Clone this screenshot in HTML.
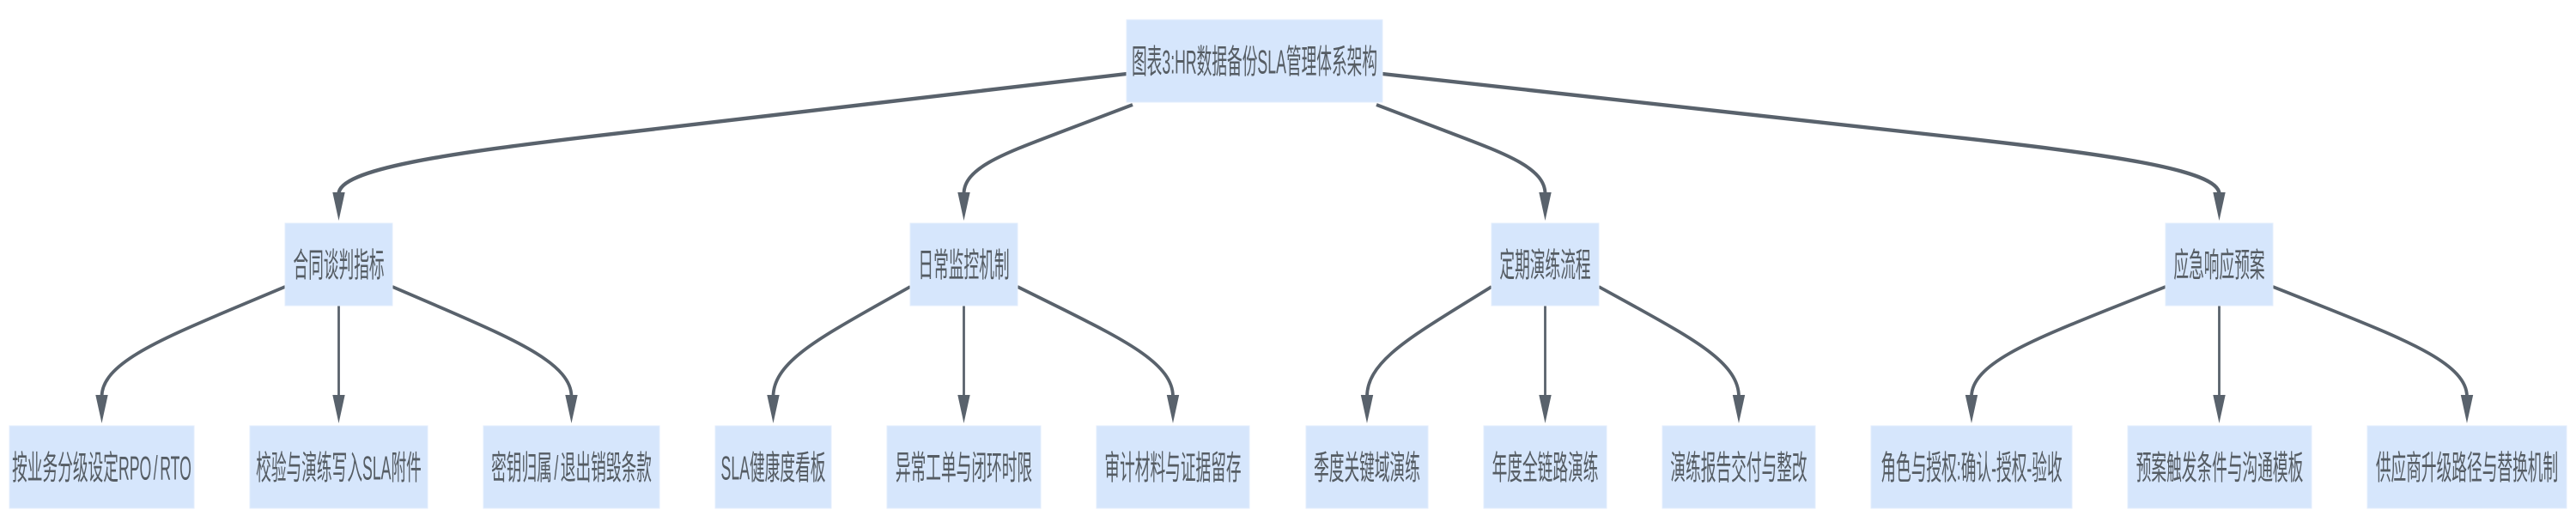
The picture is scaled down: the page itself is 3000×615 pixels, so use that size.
<!DOCTYPE html>
<html>
<head>
<meta charset="utf-8">
<style>
  html, body { margin: 0; padding: 0; background: #ffffff; }
  body { width: 3000px; height: 615px; overflow: hidden; }
  svg { display: block; }
</style>
</head>
<body>
<svg width="3000" height="615" viewBox="0 0 3000 615" xmlns="http://www.w3.org/2000/svg">
  <rect x="0" y="0" width="3000" height="615" fill="#ffffff"/>

  <!-- edges -->
  <g fill="none" stroke="#59626c" stroke-linecap="butt">
    <!-- root to level 1 -->
    <g stroke-width="4.4">
      <path d="M 1312 86 L 700 157.6 C 520 178.7, 394.5 197, 394.5 226"/>
      <path d="M 1610 86 L 2260 158 C 2450 179, 2584.5 197, 2584.5 226"/>
    </g>
    <g stroke-width="4">
      <path d="M 1319 122 L 1240 152 C 1170 178.6, 1122.5 195, 1122.5 226"/>
      <path d="M 1603 122 L 1682 152 C 1752 178.6, 1799.5 195, 1799.5 226"/>
    </g>

    <g stroke-width="3.8">
      <!-- L1a -->
      <path d="M 332 334 L 270.1 360 C 180.4 398, 118.5 425, 118.5 462"/>
      <path d="M 457 334 L 517.5 360 C 605 398, 665.5 425, 665.5 462"/>
      <!-- L1b -->
      <path d="M 1060 334 L 1013.7 360 C 946.8 398, 900.5 425, 900.5 462"/>
      <path d="M 1185 334 L 1237.5 360 C 1313.5 398, 1366 425, 1366 462"/>
      <!-- L1c -->
      <path d="M 1737 334 L 1695 360 C 1634 398, 1592 425, 1592 462"/>
      <path d="M 1862 334 L 1909.3 360 C 1977.7 398, 2025 425, 2025 462"/>
      <!-- L1d -->
      <path d="M 2522 334 L 2456.5 360 C 2361.5 398, 2296 425, 2296 462"/>
      <path d="M 2647 334 L 2712.5 360 C 2807.5 398, 2873 425, 2873 462"/>
    </g>
    <g stroke-width="2.8">
      <path d="M 394.5 356 L 394.5 462"/>
      <path d="M 1122.5 356 L 1122.5 462"/>
      <path d="M 1799.5 356 L 1799.5 462"/>
      <path d="M 2584.5 356 L 2584.5 462"/>
    </g>
  </g>

  <!-- arrowheads -->
  <g fill="#59626c">
    <polygon points="387.3,224 401.7,224 394.5,257"/>
    <polygon points="1115.3,224 1129.7,224 1122.5,257"/>
    <polygon points="1792.3,224 1806.7,224 1799.5,257"/>
    <polygon points="2577.3,224 2591.7,224 2584.5,257"/>

    <polygon points="111.3,460 125.7,460 118.5,493"/>
    <polygon points="387.3,460 401.7,460 394.5,493"/>
    <polygon points="658.3,460 672.7,460 665.5,493"/>
    <polygon points="893.3,460 907.7,460 900.5,493"/>
    <polygon points="1115.3,460 1129.7,460 1122.5,493"/>
    <polygon points="1358.8,460 1373.2,460 1366,493"/>
    <polygon points="1584.8,460 1599.2,460 1592,493"/>
    <polygon points="1792.3,460 1806.7,460 1799.5,493"/>
    <polygon points="2017.8,460 2032.2,460 2025,493"/>
    <polygon points="2288.8,460 2303.2,460 2296,493"/>
    <polygon points="2577.3,460 2591.7,460 2584.5,493"/>
    <polygon points="2865.8,460 2880.2,460 2873,493"/>
  </g>

  <!-- nodes -->
  <g fill="#d6e6fc" stroke="#e3edfc" stroke-width="1">
    <rect x="1312" y="23" width="298" height="96"/>

    <rect x="332" y="260" width="125" height="96"/>
    <rect x="1060" y="260" width="125" height="96"/>
    <rect x="1737" y="260" width="125" height="96"/>
    <rect x="2522" y="260" width="125" height="96"/>

    <rect x="11" y="496" width="215" height="96"/>
    <rect x="291" y="496" width="207" height="96"/>
    <rect x="563" y="496" width="205" height="96"/>
    <rect x="833" y="496" width="135" height="96"/>
    <rect x="1033" y="496" width="179" height="96"/>
    <rect x="1277" y="496" width="178" height="96"/>
    <rect x="1521" y="496" width="142" height="96"/>
    <rect x="1728" y="496" width="143" height="96"/>
    <rect x="1936" y="496" width="178" height="96"/>
    <rect x="2179" y="496" width="234" height="96"/>
    <rect x="2478" y="496" width="214" height="96"/>
    <rect x="2757" y="496" width="232" height="96"/>
  </g>

  <!-- labels -->
  <g font-family="'Liberation Sans','Noto Sans CJK SC',sans-serif" font-size="17.7" fill="#555c63" text-anchor="middle">
    <text transform="translate(1461,71) scale(1,2.2)" y="6.6">图表3:HR数据备份SLA管理体系架构</text>

    <text transform="translate(394.5,308) scale(1,2.2)" y="6.6">合同谈判指标</text>
    <text transform="translate(1122.5,308) scale(1,2.2)" y="6.6">日常监控机制</text>
    <text transform="translate(1799.5,308) scale(1,2.2)" y="6.6">定期演练流程</text>
    <text transform="translate(2584.5,308) scale(1,2.2)" y="6.6">应急响应预案</text>

    <text transform="translate(118.5,544) scale(1,2.2)" y="6.6">按业务分级设定RPO<tspan dx="2.5">/</tspan><tspan dx="2.5">RTO</tspan></text>
    <text transform="translate(394.5,544) scale(1,2.2)" y="6.6">校验与演练写入SLA附件</text>
    <text transform="translate(665.5,544) scale(1,2.2)" y="6.6">密钥归属<tspan dx="2.5">/</tspan><tspan dx="2.5">退出销毁条款</tspan></text>
    <text transform="translate(900.5,544) scale(1,2.2)" y="6.6">SLA健康度看板</text>
    <text transform="translate(1122.5,544) scale(1,2.2)" y="6.6">异常工单与闭环时限</text>
    <text transform="translate(1366,544) scale(1,2.2)" y="6.6">审计材料与证据留存</text>
    <text transform="translate(1592,544) scale(1,2.2)" y="6.6">季度关键域演练</text>
    <text transform="translate(1799.5,544) scale(1,2.2)" y="6.6">年度全链路演练</text>
    <text transform="translate(2025,544) scale(1,2.2)" y="6.6">演练报告交付与整改</text>
    <text transform="translate(2296,544) scale(1,2.2)" y="6.6">角色与授权:确认-授权-验收</text>
    <text transform="translate(2585,544) scale(1,2.2)" y="6.6">预案触发条件与沟通模板</text>
    <text transform="translate(2873,544) scale(1,2.2)" y="6.6">供应商升级路径与替换机制</text>
  </g>
</svg>
</body>
</html>
